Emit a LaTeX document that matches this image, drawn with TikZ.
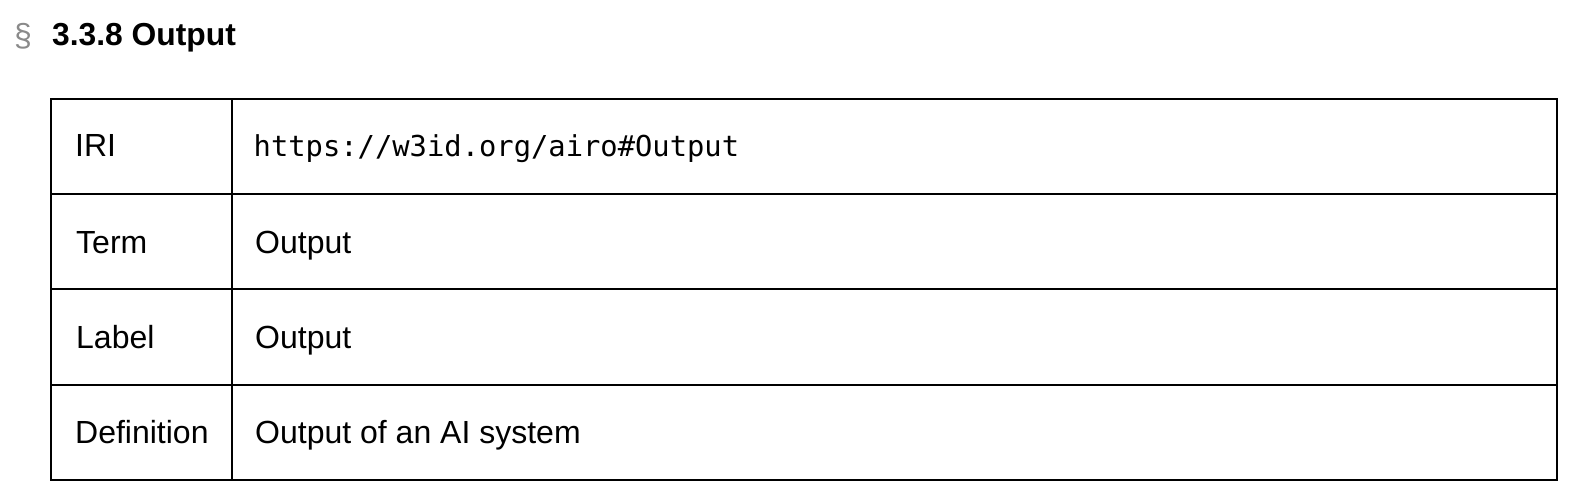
\documentclass[tikz,border=0pt]{standalone}
\usepackage{fontspec}
\setmainfont{Liberation Sans}
\setmonofont{DejaVu Sans Mono}
\definecolor{secgray}{HTML}{8A8A8A}
\tikzset{
  txt/.style={inner sep=0pt, anchor=base west, font=\fontsize{32}{38}\selectfont},
  mono/.style={inner sep=0pt, anchor=base west, font=\fontsize{28.8}{34}\selectfont\ttfamily},
  head/.style={inner sep=0pt, anchor=base west, font=\fontsize{31.8}{36}\selectfont\bfseries},
  sect/.style={inner sep=0pt, anchor=base west, text=secgray, font=\fontsize{32}{36}\selectfont},
  rule/.style={line width=2pt, draw=black},
}
\begin{document}
\begin{tikzpicture}[x=1pt,y=-1pt]
\useasboundingbox (0,0) rectangle (1590,500);
% heading
\node[sect] (sec) at (14,47) {§};
\node[head] (title) at (52,46) {3.3.8 Output};
% table frame
\coordinate (tl) at (51,99);
\coordinate (br) at (1557,480);
\draw[rule] (tl) rectangle (br);
\draw[rule] (231.5,99) -- (231.5,480);
\foreach \y in {194,289,385} \draw[rule] (51,\y) -- (1557,\y);
% left column
\node[txt] (k1) at (75,157) {IRI};
\node[txt] (k2) at (76,253) {Term};
\node[txt] (k3) at (76,348.5) {Label};
\node[txt] (k4) at (75,443.5) {Definition};
% right column
\node[mono] (v1) at (253.5,157) {https://w3id.org/airo\#Output};
\node[txt] (v2) at (255,253) {Output};
\node[txt] (v3) at (255,348.5) {Output};
\node[txt] (v4) at (255,443.5) {Output of an AI system};
\end{tikzpicture}
\end{document}
